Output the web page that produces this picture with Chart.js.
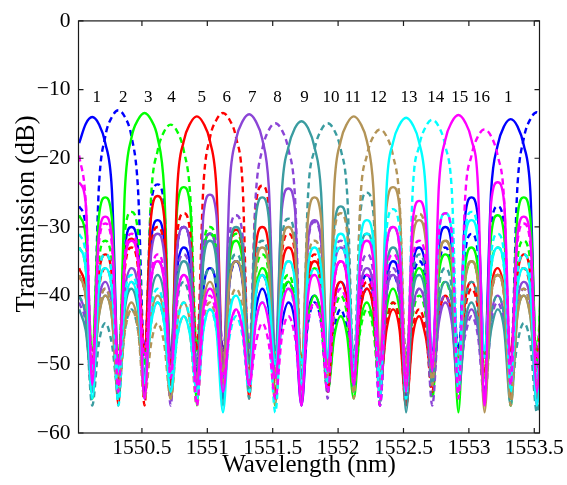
<!DOCTYPE html>
<html><head><meta charset="utf-8">
<script src="https://cdn.jsdelivr.net/npm/chart.js@4.4.1/dist/chart.umd.min.js"></script>
<style>html,body{margin:0;padding:0;background:#fff;}canvas{display:block;}</style>
</head><body>
<canvas id="c" width="567" height="485"></canvas>
<script>
// Sample wavelengths (nm)
const wavelength = [1550.02,1550.07,1550.12,1550.17,1550.22,1550.27,1550.32,1550.37,1550.42,1550.47,1550.52,1550.57,1550.62,1550.67,1550.72,1550.77,1550.82,1550.87,1550.92,1550.97,1551.02,1551.07,1551.12,1551.17,1551.22,1551.27,1551.32,1551.37,1551.42,1551.47,1551.52,1551.57,1551.62,1551.67,1551.72,1551.77,1551.82,1551.87,1551.92,1551.97,1552.02,1552.07,1552.12,1552.17,1552.22,1552.27,1552.32,1552.37,1552.42,1552.47,1552.52,1552.57,1552.62,1552.67,1552.72,1552.77,1552.82,1552.87,1552.92,1552.97,1553.02,1553.07,1553.12,1553.17,1553.22,1553.27,1553.32,1553.37,1553.42,1553.47,1553.52,1553.57];

// Transmission (dB) of each channel
const ch1 = [-17.8,-15.0,-14.0,-15.0, -17.8,-24.5,-50,-33, -30,-33,-54,-32, -29,-32,-48,-36, -33,-36,-52,-39, -36,-39,-55,-38, -35,-38,-49,-42, -39,-42,-51,-44, -41,-44,-56,-43, -40,-43,-53,-41, -38,-41,-53,-40, -37,-40,-50,-38, -35,-38,-55,-36, -33,-36,-48,-33, -30,-33,-52,-28.7, -25.7,-28.7,-49,-24.8, -18.1,-15.3,-14.3,-15.3, -18.1,-24.8,-51,-33];
const ch2 = [-27,-30,-52,-24.5, -16.8,-14.0,-13.0,-14.0, -16.8,-24.5,-49,-26.8, -23.8,-26.8,-55,-33, -30,-33,-51,-34, -31,-34,-48,-38, -35,-38,-53,-40, -37,-40,-50,-41, -38,-41,-52,-44, -41,-44,-54,-45, -42,-45,-51,-42, -39,-42,-56,-40, -37,-40,-49,-38, -35,-38,-52,-36, -33,-36,-48,-34, -31,-34,-55,-30, -27,-30,-50,-24.5, -17.1,-14.3,-13.3,-14.3];
const ch3 = [-28.3,-31.3,-48,-28.7, -25.7,-28.7,-53,-24.5, -17.0,-14.4,-13.4,-14.4, -17.0,-24.5,-50,-27.2, -24.2,-27.2,-56,-34, -31,-34,-51,-35, -32,-35,-47,-39, -36,-39,-54,-41, -38,-41,-50,-43, -40,-43,-54,-46, -43,-46,-55,-44, -41,-44,-52,-42, -39,-42,-51,-39, -36,-39,-51,-37, -34,-37,-57,-36, -33,-36,-49,-31.3, -28.3,-31.3,-53,-28.7, -25.7,-28.7,-50,-24.5];
const ch4 = [-33,-36,-55,-35, -32,-35,-49,-30.8, -27.8,-30.8,-51,-25.6, -18.9,-16.1,-15.1,-16.1, -18.9,-25.6,-48,-33, -30,-33,-53,-34, -31,-34,-50,-37, -34,-37,-56,-40, -37,-40,-49,-39, -36,-39,-52,-43, -40,-43,-53,-45, -42,-45,-54,-44, -41,-44,-54,-43, -40,-43,-55,-41, -38,-41,-49,-38, -35,-38,-51,-36, -33,-36,-56,-35, -32,-35,-48,-30.8];
const ch5 = [-36,-39,-51,-37, -34,-37,-56,-34.7, -31.7,-34.7,-48,-28.5, -25.5,-28.5,-53,-24.4, -17.5,-14.9,-13.9,-14.9, -17.5,-24.4,-50,-33.4, -30.4,-33.4,-55,-33, -30,-33,-49,-36, -33,-36,-52,-38, -35,-38,-54,-41, -38,-41,-50,-42, -39,-42,-53,-45, -42,-45,-56,-46, -43,-46,-52,-43, -40,-43,-54,-41, -38,-41,-51,-39, -36,-39,-48,-37, -34,-37,-55,-34.7];
const ch6 = [-37,-40,-49,-39, -36,-39,-53,-36, -33,-36,-56,-33, -30,-33,-50,-31, -28,-31,-48,-24, -17,-14.4,-13.4,-14.4, -17,-24,-52,-27, -24,-27,-55,-34, -31,-34,-50,-37, -34,-37,-51,-38, -35,-38,-53,-41, -38,-41,-52,-44, -41,-44,-56,-45, -42,-45,-54,-43, -40,-43,-50,-42, -39,-42,-52,-40, -37,-40,-55,-39, -36,-39,-49,-36];
const ch7 = [-40,-43,-53,-41, -38,-41,-50,-39, -36,-39,-55,-34, -31,-34,-49,-33, -30,-33,-54,-28.3, -25.3,-28.3,-51,-24.1, -17.2,-14.6,-13.6,-14.6, -17.2,-24.1,-48,-27.4, -24.4,-27.4,-56,-32, -29,-32,-50,-36, -33,-36,-52,-39, -36,-39,-55,-40, -37,-40,-52,-42, -39,-42,-53,-44, -41,-44,-54,-45, -42,-45,-54,-43, -40,-43,-53,-41, -38,-41,-56,-39];
const ch8 = [-41,-44,-54,-42, -39,-42,-51,-41, -38,-41,-52,-38, -35,-38,-56,-37, -34,-37,-50,-34, -31,-34,-53,-31.3, -28.3,-31.3,-48,-25.5, -18.7,-15.9,-14.9,-15.9, -18.7,-25.5,-51,-32.3, -29.3,-32.3,-55,-35, -32,-35,-49,-37, -34,-37,-53,-39, -36,-39,-50,-42, -39,-42,-56,-43, -40,-43,-52,-46, -43,-46,-55,-44, -41,-44,-51,-42, -39,-42,-53,-41];
const ch9 = [-42,-45,-53,-43, -40,-43,-55,-42, -39,-42,-51,-40, -37,-40,-51,-38, -35,-38,-53,-35, -32,-35,-56,-33, -30,-33,-50,-28.7, -25.7,-28.7,-52,-25, -18.4,-15.6,-14.6,-15.6, -18.4,-25,-49,-30, -27,-30,-54,-34, -31,-34,-50,-36, -33,-36,-57,-40, -37,-40,-51,-41, -38,-41,-54,-44, -41,-44,-52,-45, -42,-45,-56,-43, -40,-43,-53,-42];
const ch10 = [-40,-43,-56,-47, -44,-47,-54,-45, -42,-45,-53,-44, -41,-44,-54,-41, -38,-41,-50,-39, -36,-39,-52,-37, -34,-37,-55,-35, -32,-35,-49,-31.8, -28.8,-31.8,-53,-25.4, -18.7,-15.9,-14.9,-15.9, -18.7,-25.4,-50,-28, -25,-28,-56,-33, -30,-33,-49,-37, -34,-37,-53,-39, -36,-39,-51,-41, -38,-41,-55,-43, -40,-43,-54,-47, -44,-47,-57,-45];
const ch11 = [-37,-40,-51,-43, -40,-43,-54,-44, -41,-44,-53,-43, -40,-43,-55,-44, -41,-44,-52,-41, -38,-41,-51,-38, -35,-38,-53,-36, -33,-36,-56,-33, -30,-33,-50,-28.7, -25.7,-28.7,-52,-24.4, -17.5,-14.9,-13.9,-14.9, -17.5,-24.4,-48,-27.2, -24.2,-27.2,-54,-32, -29,-32,-50,-35, -32,-35,-53,-38, -35,-38,-57,-40, -37,-40,-55,-43, -40,-43,-51,-44];
const ch12 = [-37,-40,-52,-42, -39,-42,-52,-45, -42,-45,-55,-47, -44,-47,-55,-46, -43,-46,-56,-44, -41,-44,-53,-42, -39,-42,-52,-40, -37,-40,-51,-38, -35,-38,-54,-35, -32,-35,-51,-31, -28,-31,-55,-26.3, -19.6,-16.8,-15.8,-16.8, -19.6,-26.3,-50,-31.1, -28.1,-31.1,-53,-35, -32,-35,-49,-38, -35,-38,-52,-40, -37,-40,-56,-42, -39,-42,-53,-45];
const ch13 = [-33,-36,-55,-39, -36,-39,-51,-41, -38,-41,-52,-44, -41,-44,-54,-46, -43,-46,-54,-45, -42,-45,-57,-43, -40,-43,-52,-40, -37,-40,-50,-38, -35,-38,-53,-36, -33,-36,-49,-34, -31,-34,-52,-32, -29,-32,-55,-24.6, -17.7,-15.1,-14.1,-15.1, -17.7,-24.6,-50,-31, -28,-31,-54,-32, -29,-32,-48,-36, -33,-36,-52,-39, -36,-39,-56,-41];
const ch14 = [-31,-34,-51,-37, -34,-37,-56,-40, -37,-40,-53,-42, -39,-42,-52,-44, -41,-44,-55,-45, -42,-45,-54,-46, -43,-46,-54,-44, -41,-44,-57,-42, -39,-42,-50,-39, -36,-39,-53,-36, -33,-36,-51,-34, -31,-34,-52,-30.4, -27.4,-30.4,-55,-24.9, -18.2,-15.4,-14.4,-15.4, -18.2,-24.9,-51,-30.8, -27.8,-30.8,-49,-34, -31,-34,-54,-37, -34,-37,-52,-40];
const ch15 = [-23.5,-26.5,-53,-31.5, -28.5,-31.5,-50,-35, -32,-35,-55,-38, -35,-38,-51,-40, -37,-40,-53,-42, -39,-42,-54,-45, -42,-45,-53,-44, -41,-44,-52,-42, -39,-42,-56,-40, -37,-40,-51,-38, -35,-38,-53,-35, -32,-35,-50,-33, -30,-33,-54,-29.2, -26.2,-29.2,-51,-24.2, -17.3,-14.7,-13.7,-14.7, -17.3,-24.2,-56,-26.5, -23.5,-26.5,-50,-31.5, -28.5,-31.5,-54,-35];
const ch16 = [-19.6,-26.3,-50,-32.5, -29.5,-32.5,-54,-34, -31,-34,-49,-37, -34,-37,-52,-40, -37,-40,-56,-43, -40,-43,-52,-45, -42,-45,-53,-47, -44,-47,-55,-46, -43,-46,-54,-44, -41,-44,-54,-42, -39,-42,-52,-40, -37,-40,-56,-37, -34,-37,-52,-35, -32,-35,-50,-31, -28,-31,-55,-26.3, -19.6,-16.8,-15.8,-16.8, -19.6,-26.3,-53,-32.5, -29.5,-32.5,-50,-34];

const channelSeries = [ch1,ch2,ch3,ch4,ch5,ch6,ch7,ch8,ch9,ch10,ch11,ch12,ch13,ch14,ch15,ch16];
const channelColors = ['#0000ff','#0000ff','#00ff00','#00ff00','#ff0000','#ff0000','#8b45d6','#8b45d6','#3a9ca0','#3a9ca0','#b39457','#b39457','#00ffff','#00ffff','#ff00ff','#ff00ff'];
const channelDashed = [false,true,false,true,false,true,false,true,false,true,false,true,false,true,false,true];

// Channel number annotations
const labelText = ['1','2','3','4','5','6','7','8','9','10','11','12','13','14','15','16','1'];
const labelX = [1550.154,1550.358,1550.549,1550.727,1550.957,1551.148,1551.343,1551.537,1551.743,1551.945,1552.113,1552.308,1552.542,1552.746,1552.93,1553.096,1553.301];
const labelLevel = -11.15;

const xTicks = [1550.5,1551,1551.5,1552,1552.5,1553,1553.5];
const yTicks = [-60,-50,-40,-30,-20,-10,0];
const xRange = [1550.015, 1553.54];
const yRange = [-60, 0];

const SERIF = '"Liberation Serif","Times New Roman",serif';

const datasets = channelSeries.map((vals, k) => ({
  label: 'Ch ' + (k + 1),
  data: vals.map((v, i) => ({x: wavelength[i], y: v})),
  borderColor: channelColors[k],
  borderWidth: 2.4,
  borderDash: channelDashed[k] ? [6, 4] : [],
  pointRadius: 0,
  fill: false,
  cubicInterpolationMode: 'monotone',
  order: 17 - k,
  clip: 0
}));

const framePlugin = {
  id: 'frame',
  afterDatasetsDraw(chart) {
    const {ctx, chartArea: a, scales: {x, y}} = chart;
    ctx.save();
    ctx.fillStyle = '#000';
    ctx.font = '17px ' + SERIF;
    ctx.textAlign = 'center';
    ctx.textBaseline = 'middle';
    labelText.forEach((t, i) => ctx.fillText(t, x.getPixelForValue(labelX[i]), y.getPixelForValue(labelLevel)));
    ctx.strokeStyle = '#1a1a1a';
    ctx.lineWidth = 1.2;
    ctx.strokeRect(a.left, a.top, a.right - a.left, a.bottom - a.top);
    ctx.beginPath();
    const tl = 5;
    xTicks.forEach(v => {
      const px = x.getPixelForValue(v);
      ctx.moveTo(px, a.bottom); ctx.lineTo(px, a.bottom - tl);
      ctx.moveTo(px, a.top); ctx.lineTo(px, a.top + tl);
    });
    yTicks.forEach(v => {
      const py = y.getPixelForValue(v);
      ctx.moveTo(a.left, py); ctx.lineTo(a.left + tl, py);
      ctx.moveTo(a.right, py); ctx.lineTo(a.right - tl, py);
    });
    ctx.stroke();
    // axis titles
    ctx.font = '25px ' + SERIF;
    ctx.textAlign = 'center';
    ctx.textBaseline = 'alphabetic';
    ctx.fillText('Wavelength (nm)', (a.left + a.right) / 2, 472);
    ctx.font = '26.5px ' + SERIF;
    ctx.translate(34, 214);
    ctx.rotate(-Math.PI / 2);
    ctx.fillText('Transmission (dB)', 0, 0);
    ctx.restore();
  }
};

new Chart(document.getElementById('c'), {
  type: 'line',
  data: {datasets},
  options: {
    responsive: false,
    animation: false,
    devicePixelRatio: 1,
    layout: {padding: {left: 0, top: 17, right: 27.5, bottom: 0}},
    plugins: {legend: {display: false}, tooltip: {enabled: false}},
    scales: {
      x: {
        type: 'linear', min: xRange[0], max: xRange[1],
        grid: {display: false, drawTicks: false},
        border: {display: false},
        afterBuildTicks: s => { s.ticks = xTicks.map(v => ({value: v})); },
        afterFit: s => { s.height = 52; },
        ticks: {autoSkip: false, maxRotation: 0, padding: 2, color: '#000',
          font: {family: SERIF, size: 21.5},
          callback: v => String(v)}
      },
      y: {
        type: 'linear', min: yRange[0], max: yRange[1],
        grid: {display: false, drawTicks: false},
        border: {display: false},
        afterBuildTicks: s => { s.ticks = yTicks.map(v => ({value: v})); },
        afterFit: s => { s.width = 78.5; },
        ticks: {padding: 8, color: '#000',
          font: {family: SERIF, size: 21.5},
          callback: v => v < 0 ? '\u2212' + Math.abs(v) : String(v)}
      }
    }
  },
  plugins: [framePlugin]
});
</script>
</body></html>
